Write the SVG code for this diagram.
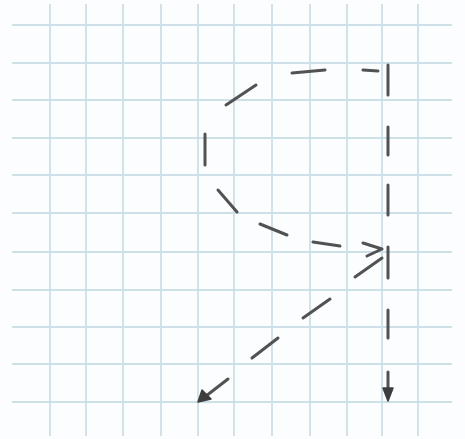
<svg xmlns="http://www.w3.org/2000/svg" width="465" height="439" viewBox="0 0 465 439">
<style>
.grid line{stroke:#cddfe7;stroke-width:1.8}
.dash{fill:none;stroke:#525252;stroke-width:3;stroke-linecap:round}
.head{fill:#3d3d3d;stroke:#3d3d3d;stroke-width:1.5;stroke-linejoin:round}
</style>
<rect width="465" height="439" fill="#fbfdfe"/>
<g class="grid" id="grid">
<line x1="50" y1="4" x2="50" y2="436"/>
<line x1="86" y1="4" x2="86" y2="436"/>
<line x1="123" y1="4" x2="123" y2="436"/>
<line x1="161" y1="4" x2="161" y2="436"/>
<line x1="198" y1="4" x2="198" y2="436"/>
<line x1="234" y1="4" x2="234" y2="436"/>
<line x1="272" y1="4" x2="272" y2="436"/>
<line x1="310" y1="4" x2="310" y2="436"/>
<line x1="347" y1="4" x2="347" y2="436"/>
<line x1="382" y1="4" x2="382" y2="436"/>
<line x1="418" y1="4" x2="418" y2="436"/>
<line x1="12" y1="25" x2="452" y2="25"/>
<line x1="12" y1="63" x2="452" y2="63"/>
<line x1="12" y1="100" x2="452" y2="100"/>
<line x1="12" y1="138" x2="452" y2="138"/>
<line x1="12" y1="175" x2="452" y2="175"/>
<line x1="12" y1="213" x2="452" y2="213"/>
<line x1="12" y1="252" x2="452" y2="252"/>
<line x1="12" y1="290" x2="452" y2="290"/>
<line x1="12" y1="327" x2="452" y2="327"/>
<line x1="12" y1="364" x2="452" y2="364"/>
<line x1="12" y1="402" x2="452" y2="402"/>
</g>
<g id="connectors">
<path id="loop" class="dash" d="M378,71 L363,70 M325,70 L292,73 M256,85 L226,105 M205,134 L205,165 M218,190 L237,212 M260,224 L287,235 M313,242 L340,246 M363,243 L382,249 M367,256 L382,249"/>
<path id="down" class="dash" d="M388,65 L388,95 M388,127 L388,155 M388,185 L388,215 M388,247 L388,278 M388,310 L388,338 M388,372 L388,392"/>
<polygon class="head" points="383,388 393,388 388,401"/>
<path id="diag" class="dash" d="M382,258 L355,277 M330,299 L303,318 M278,338 L252,358 M228,379 L206,396"/>
<polygon class="head" points="198,402 202,390 211,399"/>
</g>
</svg>
